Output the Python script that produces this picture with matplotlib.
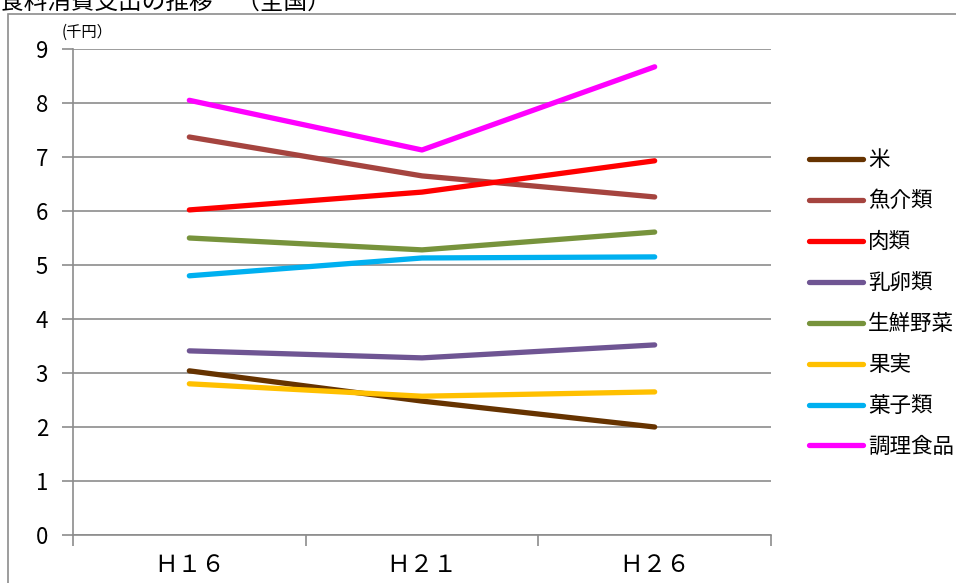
import matplotlib.pyplot as plt
from matplotlib.patches import Rectangle

plt.rcParams['font.family'] = ['Noto Sans CJK JP', 'DejaVu Sans']

# data (千円)
years = ['Ｈ１６', 'Ｈ２１', 'Ｈ２６']
names = ['米', '魚介類', '肉類', '乳卵類', '生鮮野菜', '果実', '菓子類', '調理食品']
rice = [3.04, 2.48, 2.00]
fish = [7.37, 6.65, 6.26]
meat = [6.02, 6.35, 6.93]
dairy_egg = [3.41, 3.28, 3.52]
vegetables = [5.50, 5.28, 5.61]
fruit = [2.80, 2.57, 2.65]
sweets = [4.80, 5.13, 5.15]
prepared = [8.05, 7.13, 8.67]
colors = ['#663300', '#A5443F', '#FF0000', '#6F5593', '#77933C', '#FFC000', '#00B0F0', '#FF00FF']

series = [rice, fish, meat, dairy_egg, vegetables, fruit, sweets, prepared]

fig = plt.figure(figsize=(9.56, 5.83), dpi=100)

# outer chart frame (runs off the canvas on the right and bottom)
fig.patches.append(Rectangle((8, -10), 1000, 583 - 14 + 10, transform=None,
                             fill=False, edgecolor='#8c8c8c', linewidth=1.2))

# title is cut off at the top edge, as in the original
fig.text(0.0, 1 - 9 / 583, '食料消費支出の推移　（全国）', fontsize=17,
         va='baseline', ha='left')

ax = fig.add_axes([73 / 956, 48 / 583, (771 - 73) / 956, (535 - 49) / 583])

x = range(len(years))
for vals, name, c in zip(series, names, colors):
    ax.plot(x, vals, color=c, linewidth=3.8, solid_capstyle='round',
            solid_joinstyle='round', label=name)

ax.set_xlim(-0.5, 2.5)
ax.set_ylim(0, 9)
ax.set_yticks(range(10))
ax.yaxis.grid(True, color='#8c8c8c', linewidth=1.2)
ax.set_axisbelow(True)
ax.set_xticks([-0.5, 0.5, 1.5, 2.5])
ax.set_xticklabels([])
ax.set_xticks(list(x), minor=True)
ax.set_xticklabels(years, minor=True, fontsize=17)
ax.tick_params(axis='x', which='major', direction='out', length=8, color='#8c8c8c', width=1.2)
ax.tick_params(axis='x', which='minor', length=0, pad=14)
ax.tick_params(axis='y', direction='out', length=8, color='#8c8c8c', width=1.2,
               labelsize=16, pad=10)
for s in ['top', 'right']:
    ax.spines[s].set_visible(False)
for s in ['left', 'bottom']:
    ax.spines[s].set_color('#8c8c8c')
    ax.spines[s].set_linewidth(1.2)

ax.text(-0.55, 9.15, '(千円）', fontsize=11, ha='left', va='bottom')

ax.legend(loc='upper left', bbox_to_anchor=(790 / 956, 1 - 130 / 583),
          bbox_transform=fig.transFigure, frameon=False, fontsize=15.5,
          handlelength=2.5, handletextpad=0.23, labelspacing=0.88)

fig.savefig('out.png', dpi=100)
